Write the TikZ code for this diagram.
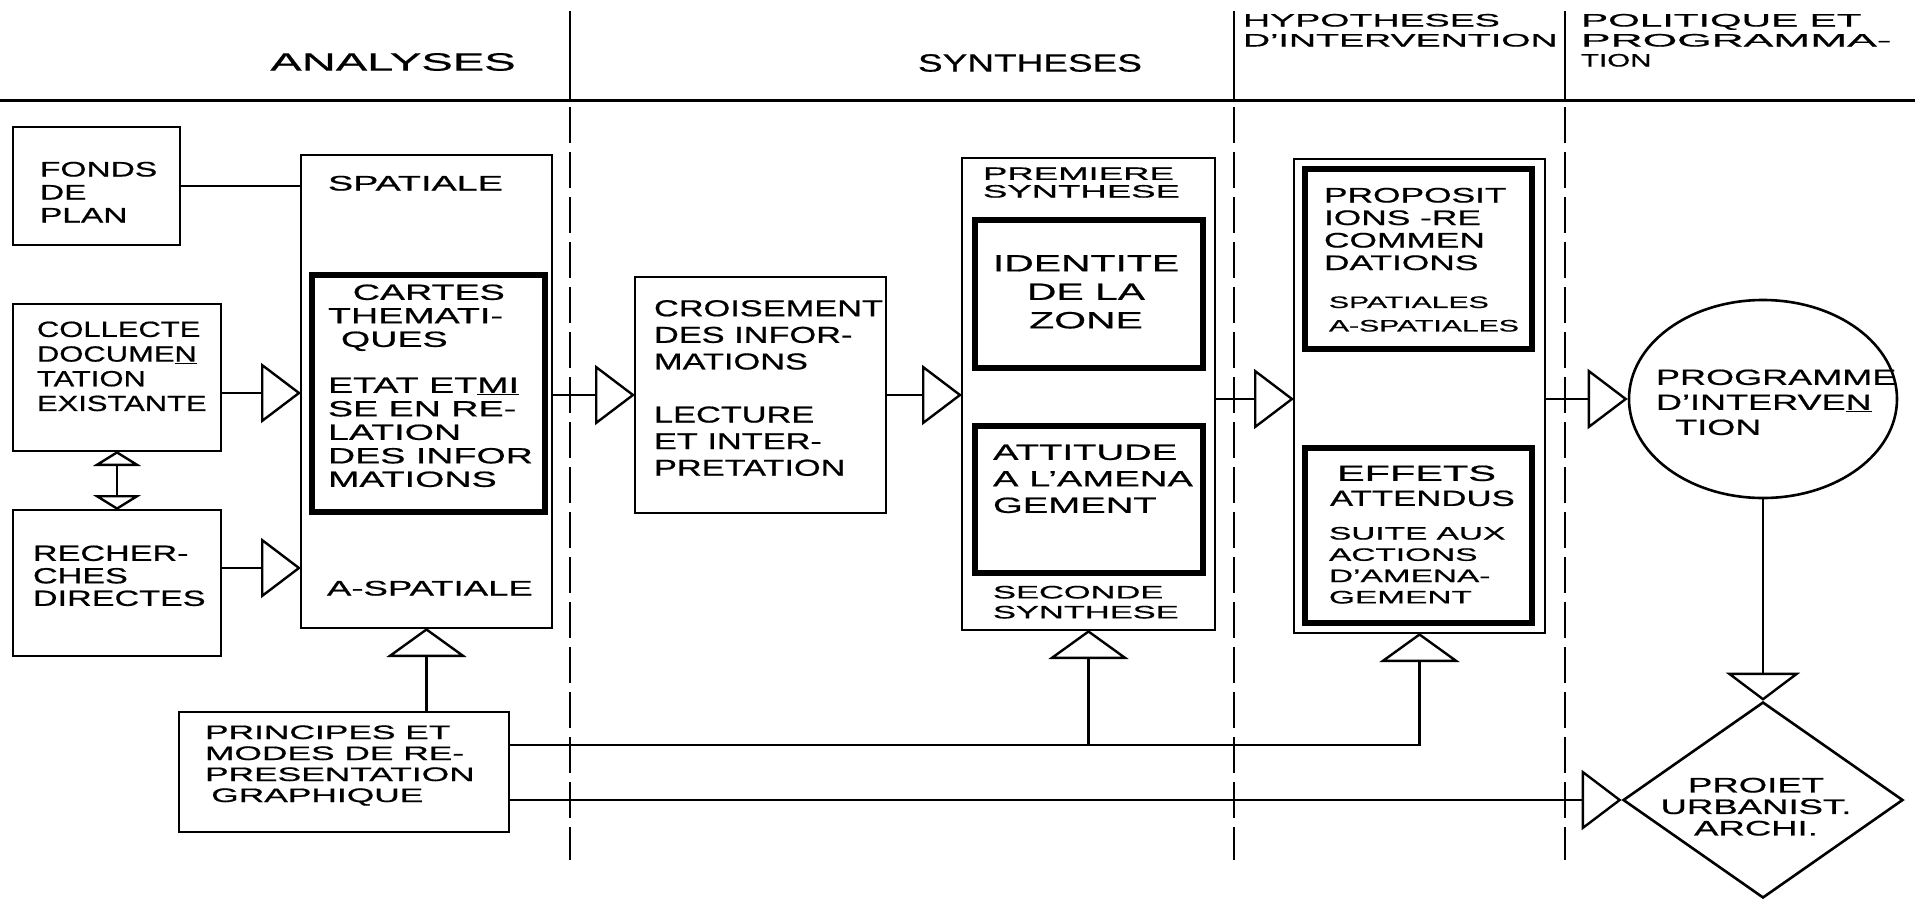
\documentclass[tikz,border=0pt]{standalone}
\usepackage{fontspec}
\setmainfont{Liberation Sans}[FakeStretch=1.45,FakeBold=0.7]
\usepackage{graphicx}
\usetikzlibrary{arrows.meta,shapes.geometric}
\newcommand\sx[2]{\scalebox{#1}[1]{#2}}
\newcommand\blk[3]{\scalebox{#1}[1]{\begin{tabular}{@{}#2@{}}#3\end{tabular}}}
\newcommand\fs[2]{\fontsize{#1}{#2}\selectfont}
\begin{document}
\begin{tikzpicture}[x=1pt,y=-1pt,
  box/.style={draw, line width=2.6pt, inner sep=0pt, outer sep=0pt},
  tbox/.style={draw, line width=5.5pt, inner sep=0pt, outer sep=0pt},
  conn/.style={line width=2.4pt},
  harr/.style={conn, -{Triangle[open, length=40pt, width=60pt]}},
  uparr/.style={conn, -{Triangle[open, length=29pt, width=80pt]}},
  dnarr/.style={conn, -{Triangle[open, length=28pt, width=74pt]}},
  dbl/.style={conn, {Triangle[open, length=15pt, width=48pt]}-{Triangle[open, length=15pt, width=48pt]}},
  txt/.style={inner sep=0pt, outer sep=0pt, anchor=north west},
  divs/.style={line width=2.6pt},
  divd/.style={line width=2.6pt, dash pattern=on 36pt off 9pt}]
\useasboundingbox (0,0) rectangle (1915,900);
\fill[white] (0,0) rectangle (1915,900);

% header
\draw[line width=3pt] (0,100) -- (1915,100);
\foreach \xx in {570,1234,1565} {
  \draw[divs] (\xx,11) -- (\xx,100);
  \draw[divd] (\xx,107) -- (\xx,860);
}
\node[inner sep=0pt, font=\fs{25}{28}] (hA) at (393,62) {\sx{1.3}{ANALYSES}};
\node[inner sep=0pt, font=\fs{25}{28}] (hS) at (1030,63) {\sx{1.02}{SYNTHESES}};
\node[txt, font=\fs{18}{20}] (hH) at (1243,12.5) {\blk{1.44}{l}{HYPOTHESES\\D'INTERVENTION}};
\node[txt, font=\fs{18}{20}] (hP) at (1581,12.5) {\blk{1}{l}{\sx{1.56}{POLITIQUE ET}\\\sx{1.7}{PROGRAMMA-}\\\sx{1.13}{TION}}};

% boxes
\node[box, minimum width=167pt, minimum height=118pt] (fonds) at (96.5,186) {};
\node[box, minimum width=208pt, minimum height=147pt] (coll) at (117,377.5) {};
\node[box, minimum width=208pt, minimum height=146pt] (rech) at (117,583) {};
\node[box, minimum width=251pt, minimum height=473pt] (spat) at (426.5,391.5) {};
\node[tbox, minimum width=233pt, minimum height=237pt] (cartes) at (428.5,393.5) {};
\node[box, minimum width=330pt, minimum height=120pt] (princ) at (344,772) {};
\node[box, minimum width=251pt, minimum height=236pt] (crois) at (760.5,395) {};
\node[box, minimum width=253pt, minimum height=472pt] (prem) at (1088.5,394) {};
\node[tbox, minimum width=228pt, minimum height=148pt] (ident) at (1089,294) {};
\node[tbox, minimum width=228pt, minimum height=147pt] (attit) at (1089,499.5) {};
\node[box, minimum width=251pt, minimum height=474pt] (propo) at (1419.5,396) {};
\node[tbox, minimum width=227pt, minimum height=180pt] (propin) at (1418.5,259) {};
\node[tbox, minimum width=227pt, minimum height=175pt] (effets) at (1418.5,535.5) {};
\node[ellipse, draw, line width=2.6pt, inner sep=0pt, minimum width=268pt, minimum height=198pt] (prog) at (1763,399) {};
\node[diamond, draw, line width=2.6pt, inner sep=0pt, minimum width=280pt, minimum height=196pt] (projet) at (1763,800) {};

% texts
\node[txt, font=\fs{21}{23}] (tfonds) at (40,160.4) {\blk{1.1}{l}{FONDS\\DE\\PLAN}};
\node[txt, font=\fs{22}{24.7}] (tcoll) at (37,319.6) {\blk{0.97}{l}{COLLECTE\\DOCUME\underline{N}\\TATION\\EXISTANTE}};
\node[txt, font=\fs{22}{22.5}] (trech) at (33,545.1) {\blk{1.07}{l}{RECHER-\\CHES\\DIRECTES}};
\node[txt, font=\fs{21}{23}] (tspat) at (328,174.4) {\blk{1.24}{l}{SPATIALE}};
\node[txt, font=\fs{22}{23.5}] (tcart) at (328,283.4) {\blk{1.18}{l}{\hspace*{21pt}CARTES\\THEMATI-\\\hspace*{11pt}QUES\\[22.5pt]ETAT ET\underline{MI}\\SE EN RE-\\LATION\\DES INFOR\\MATIONS}};
\node[txt, font=\fs{21}{23}] (taspat) at (327,579.4) {\blk{1.2}{l}{A-SPATIALE}};
\node[txt, font=\fs{23}{26.6}] (tcrois) at (654,297.6) {\blk{1.03}{l}{CROISEMENT\\DES INFOR-\\MATIONS\\[26.5pt]LECTURE\\ET INTER-\\PRETATION}};
\node[txt, font=\fs{18}{17}] (tprem) at (983,167.5) {\blk{1.4}{l}{PREMIERE\\SYNTHESE}};
\node[txt, anchor=north, font=\fs{23.5}{28.5}] (tident) at (1086,251.4) {\blk{1.2}{c}{IDENTITE\\DE LA\\ZONE}};
\node[txt, font=\fs{22}{26.5}] (tattit) at (993,441.3) {\blk{1.2}{l}{ATTITUDE\\A L'AMENA\\GEMENT}};
\node[txt, font=\fs{18}{20}] (tsec) at (993,584.4) {\blk{1.32}{l}{SECONDE\\SYNTHESE}};
\node[txt, font=\fs{21}{22.5}] (tprop) at (1324,186.75) {\blk{1.16}{l}{PROPOSIT\\IONS -RE\\COMMEN\\DATIONS}};
\node[txt, font=\fs{16.5}{23.5}] (tspats) at (1329,291.5) {\blk{1.26}{l}{SPATIALES\\A-SPATIALES}};
\node[txt, font=\fs{22}{25}] (teff) at (1330,463.4) {\blk{1}{l}{\hspace*{7pt}\sx{1.3}{EFFETS}\\\sx{1.09}{ATTENDUS}}};
\node[txt, font=\fs{18}{21.3}] (tsuite) at (1329,524.6) {\blk{1.28}{l}{SUITE AUX\\ACTIONS\\D'AMENA-\\GEMENT}};
\node[txt, font=\fs{22}{25}] (tprog) at (1656,367.4) {\blk{1.13}{l}{PROGRAMME\\D'INTERVE\underline{N}\\\hspace*{17pt}TION}};
\node[txt, anchor=north, font=\fs{21}{21.5}] (tproj) at (1756,777.4) {\blk{1.2}{c}{PROIET\\URBANIST.\\ARCHI.}};
\node[txt, font=\fs{19.5}{21}] (tprinc) at (205,724.3) {\blk{1.25}{l}{PRINCIPES ET\\MODES DE RE-\\PRESENTATION\\\hspace*{5pt}GRAPHIQUE}};

% connectors
\coordinate (yc) at (0,393);
\coordinate (yr) at (0,568);
\coordinate (yb) at (0,745);
\draw[conn] (fonds.east) -- (fonds.east -| spat.west);
\draw[harr] (coll.east |- yc) -- (yc -| spat.west);
\draw[harr] (rech.east |- yr) -- (yr -| spat.west);
\draw[dbl] (coll.south) -- (rech.north);
\draw[harr] (spat.east |- crois.west) -- (crois.west);
\draw[harr] (crois.east) -- (crois.east -| prem.west);
\draw[harr] (prem.east |- prog.west) -- (prog.west -| propo.west);
\draw[harr] (propo.east |- prog.west) -- (prog.west);
\draw[uparr] (princ.north -| spat.south) -- (spat.south);
\draw[uparr] (princ.east |- yb) -| (propo.south);
\draw[uparr] (prem.south |- yb) -- (prem.south);
\draw[harr] (princ.east |- projet.west) -- (projet.west);
\draw[dnarr] (prog.south) -- (projet.north);
\end{tikzpicture}
\end{document}
